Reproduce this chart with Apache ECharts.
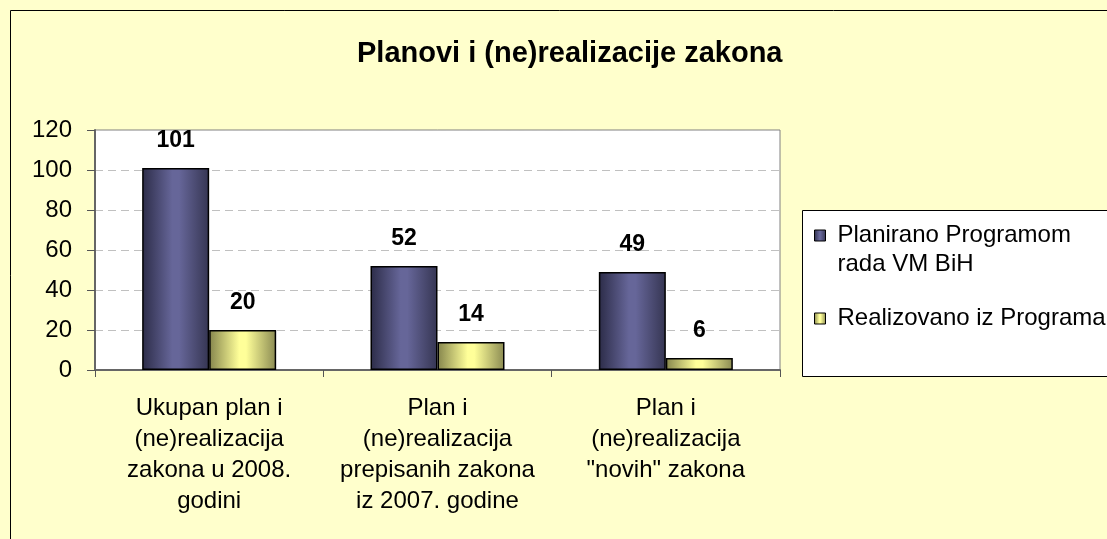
<!DOCTYPE html>
<html>
<head>
<meta charset="utf-8">
<script src="https://cdn.jsdelivr.net/npm/echarts@6/dist/echarts.min.js"></script>
<style>
  html, body { margin: 0; padding: 0; background: #FFFFCC; }
  #chart { width: 1107px; height: 539px; }
</style>
</head>
<body>
<div id="chart"></div>
<script>
var categories = [
    'Ukupan plan i\n(ne)realizacija\nzakona u 2008.\ngodini',
    'Plan i\n(ne)realizacija\nprepisanih zakona\niz 2007. godine',
    'Plan i\n(ne)realizacija\n"novih" zakona'
];
var planned = [101, 52, 49];
var realized = [20, 14, 6];
var seriesNames = ['Planirano Programom\nrada VM BiH', 'Realizovano iz Programa'];
var yTicks = { min: 0, max: 120, interval: 20 };

var font = 'Arial, "Liberation Sans", sans-serif';

// horizontal shading like the old excel bars
function shade(edgeL, mid, edgeR) {
    return new echarts.graphic.LinearGradient(0, 0, 1, 0, [
        { offset: 0, color: edgeL },
        { offset: 0.45, color: mid },
        { offset: 0.55, color: mid },
        { offset: 1, color: edgeR }
    ]);
}
var blue = shade('#2c2c48', '#666699', '#353552');
var yellow = shade('#85854c', '#ffff99', '#8a8a52');

var chart = echarts.init(document.getElementById('chart'));

var labelStyle = {
    show: true,
    position: 'top',
    distance: 16,
    color: '#000',
    fontFamily: font,
    fontWeight: 'bold',
    fontSize: 23
};

var legendText = { fontFamily: font, fontSize: 24, color: '#000', lineHeight: 29, padding: [0, 0, 0, 7] };

chart.setOption({
    backgroundColor: '#FFFFCC',
    animation: false,
    title: {
        text: 'Planovi i (ne)realizacije zakona',
        left: 357,
        top: 39,
        padding: 0,
        textStyle: { fontFamily: font, fontWeight: 'bold', fontSize: 29, color: '#000' }
    },
    graphic: [{
        type: 'rect',
        z: 0,
        shape: { x: 10.5, y: 10.5, width: 1200, height: 600 },
        style: { fill: 'none', stroke: '#000', lineWidth: 1 }
    }, {
        type: 'rect',
        z: 1,
        shape: { x: 802.5, y: 210.5, width: 400, height: 166 },
        style: { fill: '#fff', stroke: '#000', lineWidth: 1 }
    }],
    legend: [{
        left: 814,
        top: 192,
        padding: 0,
        itemWidth: 11,
        itemHeight: 11,
        icon: 'rect',
        itemStyle: { borderColor: '#000', borderWidth: 1 },
        textStyle: legendText,
        // blank first line so the square lines up with the first text line
        formatter: function (name) { return ' \n' + name; },
        data: [seriesNames[0]]
    }, {
        left: 814,
        top: 304,
        padding: 0,
        itemWidth: 11,
        itemHeight: 11,
        icon: 'rect',
        itemStyle: { borderColor: '#000', borderWidth: 1 },
        textStyle: legendText,
        data: [seriesNames[1]]
    }],
    grid: {
        left: 95,
        top: 130,
        right: 327,
        bottom: 169,
        show: true,
        backgroundColor: '#fff',
        borderColor: '#808080',
        borderWidth: 1
    },
    xAxis: {
        type: 'category',
        data: categories,
        axisLine: { lineStyle: { color: '#666', width: 2 } },
        axisTick: { show: true, length: 7, lineStyle: { color: '#555' } },
        axisLabel: {
            margin: 23,
            interval: 0,
            color: '#000',
            fontFamily: font,
            fontSize: 24,
            lineHeight: 31
        }
    },
    yAxis: {
        type: 'value',
        min: yTicks.min,
        max: yTicks.max,
        interval: yTicks.interval,
        axisLine: { show: true, lineStyle: { color: '#666', width: 2 } },
        axisTick: { show: true, length: 8, lineStyle: { color: '#555' } },
        axisLabel: { margin: 23, color: '#000', fontFamily: font, fontSize: 24 },
        splitLine: { lineStyle: { color: '#c0c0c0', type: [8, 5] } }
    },
    series: [{
        name: seriesNames[0],
        type: 'bar',
        barWidth: 67,
        barGap: '0%',
        data: planned,
        itemStyle: { color: blue, borderColor: '#000', borderWidth: 1.5 },
        label: labelStyle
    }, {
        name: seriesNames[1],
        type: 'bar',
        barWidth: 67,
        data: realized,
        itemStyle: { color: yellow, borderColor: '#000', borderWidth: 1.5 },
        label: labelStyle
    }]
});
</script>
</body>
</html>
